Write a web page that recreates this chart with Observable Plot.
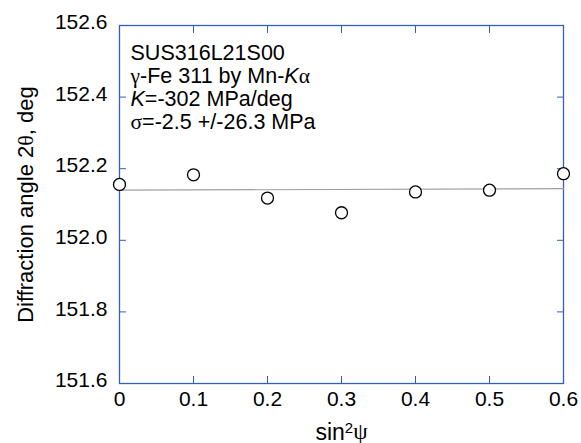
<!DOCTYPE html>
<html>
<head>
<meta charset="utf-8">
<script src="https://cdn.jsdelivr.net/npm/d3@7"></script>
<script src="https://cdn.jsdelivr.net/npm/@observablehq/plot@0.6"></script>
<style>
  html, body { margin: 0; padding: 0; background: #fff; }
</style>
</head>
<body>
<div id="chart"></div>
<script>
// ---- data ----
const sin2psi = [0, 0.1, 0.2, 0.3, 0.4, 0.5, 0.6];
const twoTheta = [152.156, 152.183, 152.118, 152.077, 152.135, 152.140, 152.186];
const xTicks = [0, 0.1, 0.2, 0.3, 0.4, 0.5, 0.6];
const xTickLabels = ["0", "0.1", "0.2", "0.3", "0.4", "0.5", "0.6"];
const yTicks = [151.6, 151.8, 152.0, 152.2, 152.4, 152.6];
const yTickLabels = ["151.6", "151.8", "152.0", "152.2", "152.4", "152.6"];
const annotationLines = [
  "SUS316L21S00",
  "γ-Fe 311 by Mn-Kα",
  "K=-302 MPa/deg",
  "σ=-2.5 +/-26.3 MPa"
];
const xLabel = "sin²ψ";
const yLabel = "Diffraction angle 2θ, deg";

const points = sin2psi.map((x, i) => ({x, y: twoTheta[i]}));

const blue = "#3160b8";
const sans = "'Liberation Sans', Arial, Helvetica, sans-serif";
const serif = "'Liberation Serif', 'DejaVu Serif', serif";

const svg = Plot.plot({
  width: 581,
  height: 443,
  marginLeft: 119,
  marginRight: 18,
  marginTop: 25,
  marginBottom: 60,
  style: {fontFamily: sans, fontSize: "21px", background: "#fff", color: "#000"},
  x: {domain: [0, 0.6], ticks: xTicks},
  y: {domain: [151.6, 152.6], ticks: yTicks},
  marks: [
    // inward ticks on all four sides
    Plot.axisX(xTicks, {anchor: "bottom", tickSize: -7, stroke: blue, tickFormat: () => "", label: null}),
    Plot.axisX(xTicks, {anchor: "top", tickSize: -7, stroke: blue, tickFormat: () => "", label: null}),
    Plot.axisY(yTicks, {anchor: "left", tickSize: -7, stroke: blue, tickFormat: () => "", label: null}),
    Plot.axisY(yTicks, {anchor: "right", tickSize: -7, stroke: blue, tickFormat: () => "", label: null}),
    // tick labels
    Plot.axisX(xTicks, {anchor: "bottom", tickSize: 0, tickPadding: 8, fill: "#000",
      tickFormat: (d, i) => xTickLabels[i], label: null, fontSize: 21}),
    Plot.axisY(yTicks, {anchor: "left", tickSize: 0, tickPadding: 12, dy: -3, fill: "#000",
      tickFormat: (d, i) => yTickLabels[i], label: null, fontSize: 21}),
    Plot.frame({stroke: blue, strokeWidth: 1.3}),
    Plot.linearRegressionY(points, {x: "x", y: "y", ci: 0, stroke: "#a0a0a0", strokeWidth: 1.2}),
    Plot.dot(points, {x: "x", y: "y", r: 6, stroke: "#000", fill: "#fff", strokeWidth: 1.3}),
    ...annotationLines.map((line, i) =>
      Plot.text([line], {frameAnchor: "top-left", lineAnchor: "top", textAnchor: "start",
        dx: 11, dy: 19 + 23 * i, fontSize: 21.5, fill: "#000"})),
    Plot.text([yLabel], {frameAnchor: "left", textAnchor: "middle", rotate: -90, dx: -94, fontSize: 22, fill: "#000"}),
    Plot.text([xLabel], {frameAnchor: "bottom", textAnchor: "middle", dy: 56, fontSize: 23, fill: "#000"})
  ]
});

// rich formatting: Greek letters in serif, K italic, superscript 2
function richify(el) {
  const s = el.textContent;
  const sel = d3.select(el);
  sel.text(null);
  let raised = false;
  for (const ch of s) {
    const t = sel.append("tspan").text(ch);
    if (/[\u0370-\u03ff]/.test(ch)) t.attr("font-family", serif);
    if (ch === "K") t.attr("font-style", "italic");
    if (ch === "²") {
      t.text("2").attr("font-size", "0.65em").attr("dy", "-0.45em");
      raised = true;
    } else if (raised) {
      t.attr("dy", "0.29em");
      raised = false;
    }
  }
}
const targets = new Set([...annotationLines, xLabel, yLabel]);
d3.select(svg).selectAll("text").each(function () {
  if (targets.has(this.textContent) && this.children.length === 0) richify(this);
});

document.getElementById("chart").appendChild(svg);
</script>
</body>
</html>
